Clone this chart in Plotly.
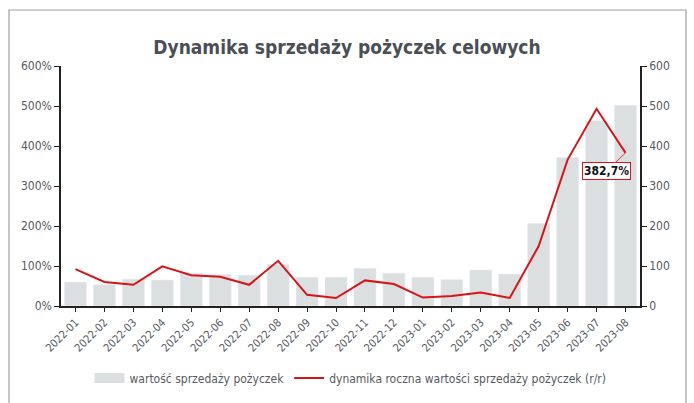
import plotly.graph_objects as go

months = ["2022-01","2022-02","2022-03","2022-04","2022-05","2022-06","2022-07","2022-08","2022-09","2022-10",
          "2022-11","2022-12","2023-01","2023-02","2023-03","2023-04","2023-05","2023-06","2023-07","2023-08"]
sales_value = [60, 53, 67, 65, 82, 79, 77, 104, 72, 72, 94, 82, 72, 66, 90, 80, 206, 371, 463, 502]
yoy_dynamics = [92, 60, 53, 99, 77, 73, 53, 113, 28, 20, 64, 55, 21, 25, 34, 20, 150, 366, 493, 382.7]

FONT = "DejaVu Sans Condensed, DejaVu Sans, sans-serif"
GREY = "#555a5f"
BAR_COLOR = "#dcdfe0"

fig = go.Figure()
fig.add_trace(go.Bar(x=months, y=sales_value, name="wartość sprzedaży pożyczek",
                     marker_color=BAR_COLOR, yaxis="y", showlegend=False))
# legend proxy for bars (wide rectangle swatch)
fig.add_trace(go.Scatter(x=[None], y=[None], name="wartość sprzedaży pożyczek", mode="lines",
                         line=dict(color=BAR_COLOR, width=11), yaxis="y"))
fig.add_trace(go.Scatter(x=months, y=yoy_dynamics, name="dynamika roczna wartości sprzedaży pożyczek (r/r)",
                         mode="lines", line=dict(color="#d7141a", width=2), yaxis="y2"))

fig.add_annotation(x=months[-1], y=yoy_dynamics[-1], xref="x", yref="y2",
                   text="<b>382,7%</b>", showarrow=True, ax=-19, ay=18,
                   arrowhead=0, arrowwidth=1, arrowcolor="#e04040",
                   font=dict(family=FONT, size=12, color="#111"),
                   bordercolor="#d7141a", borderwidth=1, borderpad=1, bgcolor="white")

# outer frame
fig.add_shape(type="rect", xref="paper", yref="paper",
              x0=-0.0898, x1=1.0794, y0=-0.45, y1=1.2333,
              line=dict(color="#a0a0a0", width=1.2), fillcolor="rgba(0,0,0,0)", layer="below")

fig.update_layout(
    width=694, height=403,
    margin=dict(l=61, r=54, t=66, b=97, autoexpand=False),
    paper_bgcolor="white", plot_bgcolor="white",
    font=dict(family=FONT, color=GREY, size=11),
    title=dict(text="<b>Dynamika sprzedaży pożyczek celowych</b>", x=0.5, xanchor="center",
               y=1 - 47/403, yanchor="middle",
               font=dict(family=FONT, size=19, color="#4a4f55")),
    bargap=0.24,
    showlegend=True,
    legend=dict(orientation="h", x=0.5, xanchor="center", y=-0.24, yanchor="top",
                font=dict(family=FONT, size=12, color=GREY), itemwidth=30),
    xaxis=dict(type="category", tickangle=-45, showline=True, linecolor="#222", linewidth=1.5,
               ticks="outside", ticklen=4, tickcolor="#222", showgrid=False,
               tickfont=dict(family=FONT, size=11, color=GREY)),
    yaxis=dict(range=[0, 600], dtick=100, side="right", showline=True, linecolor="#222", linewidth=1.5,
               ticks="outside", ticklen=5, tickcolor="#222", showgrid=False, zeroline=False,
               tickfont=dict(family=FONT, size=12, color=GREY)),
    yaxis2=dict(range=[0, 600], dtick=100, side="left", overlaying="y", ticksuffix="%",
                showline=True, linecolor="#222", linewidth=1.5,
                ticks="outside", ticklen=5, tickcolor="#222", showgrid=False, zeroline=False,
                tickfont=dict(family=FONT, size=12, color=GREY)),
)

fig.write_html("out.html", config={"displayModeBar": False},
               post_script="document.body.style.margin='0';document.body.style.overflow='hidden';")
